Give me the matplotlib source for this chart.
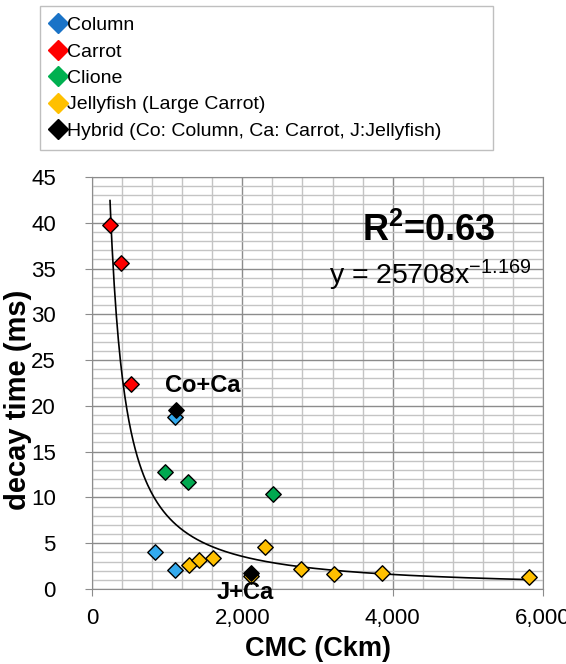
import numpy as np
import matplotlib
matplotlib.use("Agg")
import matplotlib.pyplot as plt
from matplotlib.lines import Line2D
from matplotlib.ticker import MultipleLocator, FuncFormatter

plt.rcParams['font.family'] = ['Liberation Sans', 'DejaVu Sans']
plt.rcParams['mathtext.fontset'] = 'custom'
plt.rcParams['mathtext.rm'] = 'Liberation Sans'
plt.rcParams['mathtext.bf'] = 'Liberation Sans:bold'

# data
column_x = [842, 1100, 1108]
column_y = [4.0, 2.1, 18.8]
carrot_x = [240, 386, 519]
carrot_y = [39.8, 35.6, 22.4]
clione_x = [971, 1281, 2404]
clione_y = [12.8, 11.7, 10.4]
jelly_x = [1286, 1419, 1605, 2115, 2306, 2776, 3219, 3858, 5808]
jelly_y = [2.6, 3.2, 3.4, 1.4, 4.6, 2.2, 1.6, 1.7, 1.35]
hybrid_x = [1117, 2115]
hybrid_y = [19.5, 1.75]

# power trendline shown on the chart
fit_a = 25708
fit_b = -1.169

series = [
    ("Column", column_x, column_y, '#33aaee', '#1a73c7'),
    ("Carrot", carrot_x, carrot_y, '#ff0000', '#ff0000'),
    ("Clione", clione_x, clione_y, '#00a850', '#00b050'),
    ("Jellyfish (Large Carrot)", jelly_x, jelly_y, '#ffc000', '#ffc000'),
    ("Hybrid (Co: Column, Ca: Carrot, J:Jellyfish)", hybrid_x, hybrid_y, '#000000', '#000000'),
]

fig = plt.figure(figsize=(5.66, 6.64), dpi=100)
ax = fig.add_axes([0.1625, 0.113, 0.797, 0.6205])

all_x = column_x + carrot_x + clione_x + jelly_x + hybrid_x
xs = np.linspace(min(all_x), max(all_x), 400)
ax.plot(xs, fit_a * xs ** fit_b, color='black', lw=1.2, zorder=3)

handles = []
for name, x, y, c, lc in series:
    ax.scatter(x, y, marker='D', s=62, color=c, edgecolors='black', linewidths=1.0, zorder=4)
    handles.append(Line2D([], [], marker='D', ls='none', color=lc, markersize=10, label=name))

ax.set_xlim(0, 6000)
ax.set_ylim(0, 45)
ax.xaxis.set_major_locator(MultipleLocator(2000))
ax.xaxis.set_minor_locator(MultipleLocator(400))
ax.yaxis.set_major_locator(MultipleLocator(5))
ax.yaxis.set_minor_locator(MultipleLocator(1))
ax.xaxis.set_major_formatter(FuncFormatter(lambda v, p: f"{int(v):,}"))
ax.grid(which='major', color='#8c8c8c', lw=1.0, zorder=0)
ax.grid(which='minor', color='#c4c4c4', lw=1.0, zorder=0)
ax.set_axisbelow(True)
for s in ax.spines.values():
    s.set_color('#8c8c8c')
ax.tick_params(which='major', length=5, color='#8c8c8c', labelsize=16)
ax.tick_params(axis='y', pad=21)
ax.tick_params(axis='x', pad=9)
ax.tick_params(which='minor', length=0)

ax.set_xlabel('CMC (Ckm)', fontsize=19.5, fontweight='bold')
ax.xaxis.set_label_coords(0.5, -0.115)
ax.set_ylabel('decay time (ms)', fontsize=21, fontweight='bold')
ax.yaxis.set_label_coords(-0.133, 0.459)

ax.text(1477, 22.2, 'Co+Ca', fontsize=17, fontweight='bold', ha='center', va='center', zorder=5)
ax.text(2040, -0.4, 'J+Ca', fontsize=17, fontweight='bold', ha='center', va='center',
        clip_on=False, zorder=5)
ax.text(4480, 38.0, r'$\mathbf{R^2}$=0.63', fontsize=26, fontweight='bold', ha='center', va='baseline')
ax.text(3150, 33.3, r'y = 25708$\mathregular{x^{-1.169}}$', fontsize=20.5, ha='left', va='baseline')

leg = fig.legend(handles=handles, loc='upper left', bbox_to_anchor=(0.0707, 0.005, 0.80, 0.986),
                 mode='expand', fontsize=14, frameon=True, fancybox=False, edgecolor='#b0b0b0',
                 handlelength=0.7, handletextpad=0.15, labelspacing=0.45, borderpad=0.55,
                 borderaxespad=0)
leg.get_frame().set_linewidth(1.0)

fig.savefig('out.png', dpi=100)
